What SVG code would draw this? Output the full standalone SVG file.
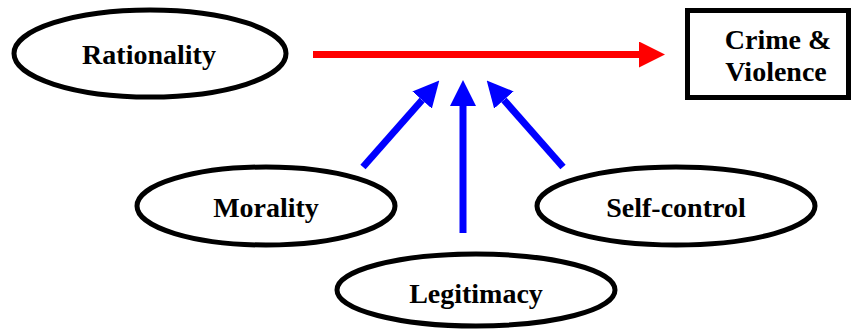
<svg xmlns="http://www.w3.org/2000/svg" width="853" height="329" viewBox="0 0 853 329">
<style>
.node{fill:#fff;stroke:#000;stroke-width:5}
.lbl{font-family:"Liberation Serif","Times New Roman",serif;font-weight:bold;font-size:28px;fill:#000;text-anchor:middle}
.red{stroke:#ff0000;stroke-width:7;fill:none}
.blue{stroke:#0000ff;stroke-width:7;fill:none}
</style>
<defs>
<marker id="ahRed" markerUnits="userSpaceOnUse" markerWidth="26" markerHeight="26" viewBox="0 0 24 24" refX="0" refY="12" orient="auto">
<path d="M0,0 L24,12 L0,24 Z" fill="#ff0000"/>
</marker>
<marker id="ahBlue" markerUnits="userSpaceOnUse" markerWidth="26" markerHeight="26" viewBox="0 0 24 24" refX="0" refY="12" orient="auto">
<path d="M0,0 L24,12 L0,24 Z" fill="#0000ff"/>
</marker>
</defs>
<g id="connectors">
<path class="red" d="M313,54.5 L639,54.5" marker-end="url(#ahRed)"/>
<path class="blue" d="M363,167 L422.1,100" marker-end="url(#ahBlue)"/>
<path class="blue" d="M463,233 L463,106" marker-end="url(#ahBlue)"/>
<path class="blue" d="M563,167 L503.9,100" marker-end="url(#ahBlue)"/>
</g>
<g id="rationality">
<ellipse class="node" cx="150" cy="53.5" rx="136" ry="43.5"/>
<text class="lbl" x="149" y="64">Rationality</text>
</g>
<g id="crime">
<rect class="node" x="687.5" y="10.5" width="161" height="87"/>
<text class="lbl" x="778" y="49">Crime &amp;</text>
<text class="lbl" x="776" y="81">Violence</text>
</g>
<g id="morality">
<ellipse class="node" cx="266" cy="206" rx="129" ry="39"/>
<text class="lbl" x="266" y="217">Morality</text>
</g>
<g id="selfcontrol">
<ellipse class="node" cx="676" cy="206" rx="139" ry="39"/>
<text class="lbl" x="676" y="217">Self-control</text>
</g>
<g id="legitimacy">
<ellipse class="node" cx="476" cy="290" rx="139" ry="36"/>
<text class="lbl" x="476" y="303">Legitimacy</text>
</g>
</svg>
